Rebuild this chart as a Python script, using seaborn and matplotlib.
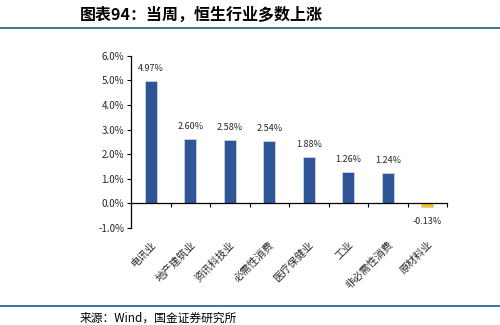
import matplotlib
matplotlib.use("Agg")
import matplotlib.pyplot as plt
import seaborn as sns
import pandas as pd
from matplotlib.ticker import FixedLocator, PercentFormatter

sns.set_theme(style="white")
plt.rcParams['font.family'] = ['Noto Sans CJK SC', 'DejaVu Sans']
plt.rcParams['axes.unicode_minus'] = False

categories = ['电讯业', '地产建筑业', '资讯科技业', '必需性消费', '医疗保健业',
              '工业', '非必需性消费', '原材料业']
values = [4.97, 2.60, 2.58, 2.54, 1.88, 1.26, 1.24, -0.13]
y_ticks = [-1.0, 0.0, 1.0, 2.0, 3.0, 4.0, 5.0, 6.0]

title = '图表94：当周，恒生行业多数上涨'
source = '来源：Wind，国金证券研究所'

blue = '#2F5597'
yellow = '#FFC000'
colors = [blue if v >= 0 else yellow for v in values]

df = pd.DataFrame({'cat': categories, 'val': values})

fig = plt.figure(figsize=(5, 3.25), dpi=100)
ax = fig.add_axes([0.262, 0.2985, 0.632, 0.5301])

sns.barplot(data=df, x='cat', y='val', hue='cat', palette=colors,
            legend=False, width=0.30, ax=ax, edgecolor='#c9d3e6',
            linewidth=0.6, saturation=1)

ax.set_ylim(-1, 6)
ax.set_xlim(-0.5, len(categories) - 0.5)
ax.set_yticks(y_ticks)
ax.yaxis.set_major_formatter(PercentFormatter(decimals=1))
ax.set_xlabel('')
ax.set_ylabel('')

for s in ['top', 'right']:
    ax.spines[s].set_visible(False)
ax.spines['left'].set_color('black')
ax.spines['left'].set_linewidth(0.9)
ax.spines['bottom'].set_position(('data', 0))
ax.spines['bottom'].set_color('black')
ax.spines['bottom'].set_linewidth(0.9)

ax.tick_params(axis='y', which='major', direction='out', length=3,
               width=0.8, color='black', labelsize=7, pad=2, left=True)
ax.xaxis.set_minor_locator(FixedLocator([i + 0.5 for i in range(len(categories))]))
ax.tick_params(axis='x', which='minor', direction='out', length=3,
               width=0.8, color='black', bottom=True)
ax.tick_params(axis='x', which='major', length=0, pad=26, labelsize=7.5)
for lab in ax.get_xticklabels():
    lab.set_rotation(45)
    lab.set_ha('right')
    lab.set_va('top')
    lab.set_rotation_mode('anchor')

for i, v in enumerate(values):
    if v >= 0:
        ax.annotate(f'{v:.2f}%', (i, v), xytext=(0, 9), textcoords='offset points',
                    ha='center', va='center', fontsize=6.5)
    else:
        ax.annotate(f'{v:.2f}%', (i, v), xytext=(0, -11), textcoords='offset points',
                    ha='center', va='center', fontsize=6.5)

line_color = '#1F5C8B'
fig.add_artist(plt.Line2D([0, 1], [1 - 28 / 325, 1 - 28 / 325], color=line_color,
                          linewidth=1.2, transform=fig.transFigure))
fig.add_artist(plt.Line2D([0, 1], [1 - 306 / 325, 1 - 306 / 325], color=line_color,
                          linewidth=1.2, transform=fig.transFigure))

fig.text(80 / 500, 1 - 15 / 325, title, fontsize=11.5, fontweight='bold',
         style='italic', ha='left', va='center', color='black')
fig.text(80 / 500, 1 - 318 / 325, source, fontsize=8.5, ha='left',
         va='center', color='black')

fig.savefig('out.png', dpi=100, facecolor='white')
